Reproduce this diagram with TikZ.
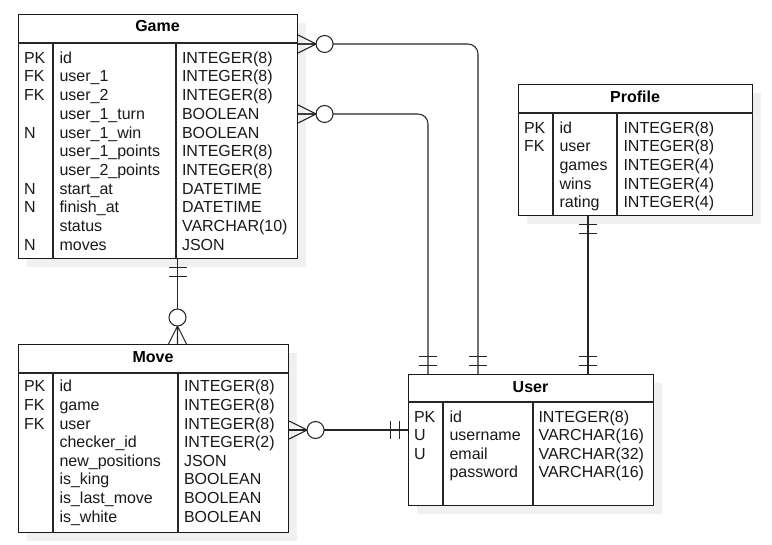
\documentclass[tikz,border=0pt]{standalone}
\usepackage{fontspec}
\setmainfont{Liberation Sans}
\usetikzlibrary{calc,shadows}
\begin{document}
\begin{tikzpicture}[x=0.75pt,y=-0.75pt,line width=0.8pt,draw=black!85,
  font=\fontsize{12pt}{14pt}\selectfont,
  tbl/.style 2 args={draw=black!90,fill=white,inner sep=0pt,anchor=north west,
    minimum width=#1*0.75pt,minimum height=#2*0.75pt,
    drop shadow={shadow xshift=6pt,shadow yshift=-6pt,fill=black!6,draw=none,opacity=1}},
  title/.style={font=\fontsize{12pt}{14pt}\selectfont\bfseries,anchor=base,inner sep=0pt},
  cell/.style={anchor=base west,inner sep=0pt,text=black!90},
  zmany/.pic={\draw (0,-9)--(18,0) (0,9)--(18,0) (0,0)--(18,0);
              \draw[fill=white] (26.5,0) circle[radius=8.5];},
  onlyone/.pic={\draw (8.5,-9)--(8.5,9) (17.5,-9)--(17.5,9);},
]
\useasboundingbox (0,0) rectangle (772,545);

% ---------- Game ----------
\node[tbl={279}{244}] (game) at (18,14) {};
\draw ($(game.north west)+(0,29)$) -- ($(game.north east)+(0,29)$);
\draw ($(game.north west)+(35,29)$) -- ($(game.south west)+(35,0)$);
\draw ($(game.north west)+(158,29)$) -- ($(game.south west)+(158,0)$);
\node[title] (game-title) at (157.5,32) {Game};
\foreach \k/\n/\t [count=\i from 0] in {PK/id/INTEGER(8),FK/user\_1/INTEGER(8),FK/user\_2/INTEGER(8),{}/user\_1\_turn/BOOLEAN,N/user\_1\_win/BOOLEAN,{}/user\_1\_points/INTEGER(8),{}/user\_2\_points/INTEGER(8),N/start\_at/DATETIME,N/finish\_at/DATETIME,{}/status/VARCHAR(10),N/moves/JSON}{
  \node[cell] (game-k\i) at (23.5,{63.3+\i*18.7}) {\k};
  \node[cell] (game-n\i) at (59,{63.3+\i*18.7}) {\n};
  \node[cell] (game-t\i) at (181.5,{63.3+\i*18.7}) {\t};
}

% ---------- Profile ----------
\node[tbl={234}{131}] (profile) at (518,84) {};
\draw ($(profile.north west)+(0,29)$) -- ($(profile.north east)+(0,29)$);
\draw ($(profile.north west)+(35,29)$) -- ($(profile.south west)+(35,0)$);
\draw ($(profile.north west)+(99,29)$) -- ($(profile.south west)+(99,0)$);
\node[title] (profile-title) at (635,102.5) {Profile};
\foreach \k/\n/\t [count=\i from 0] in {PK/id/INTEGER(8),FK/user/INTEGER(8),{}/games/INTEGER(4),{}/wins/INTEGER(4),{}/rating/INTEGER(4)}{
  \node[cell] (profile-k\i) at (523.5,{133.3+\i*18.6}) {\k};
  \node[cell] (profile-n\i) at (559,{133.3+\i*18.6}) {\n};
  \node[cell] (profile-t\i) at (623,{133.3+\i*18.6}) {\t};
}

% ---------- Move ----------
\node[tbl={270}{188}] (move) at (18,344) {};
\draw ($(move.north west)+(0,29)$) -- ($(move.north east)+(0,29)$);
\draw ($(move.north west)+(35,29)$) -- ($(move.south west)+(35,0)$);
\draw ($(move.north west)+(160,29)$) -- ($(move.south west)+(160,0)$);
\node[title] (move-title) at (153,362.5) {Move};
\foreach \k/\n/\t [count=\i from 0] in {PK/id/INTEGER(8),FK/game/INTEGER(8),FK/user/INTEGER(8),{}/checker\_id/INTEGER(2),{}/new\_positions/JSON,{}/is\_king/BOOLEAN,{}/is\_last\_move/BOOLEAN,{}/is\_white/BOOLEAN}{
  \node[cell] (move-k\i) at (23.5,{392+\i*18.6}) {\k};
  \node[cell] (move-n\i) at (59,{392+\i*18.6}) {\n};
  \node[cell] (move-t\i) at (183.5,{392+\i*18.6}) {\t};
}

% ---------- User ----------
\node[tbl={245}{131}] (user) at (408,374) {};
\draw ($(user.north west)+(0,28)$) -- ($(user.north east)+(0,28)$);
\draw ($(user.north west)+(35,28)$) -- ($(user.south west)+(35,0)$);
\draw ($(user.north west)+(125,28)$) -- ($(user.south west)+(125,0)$);
\node[title] (user-title) at (530.5,393) {User};
\foreach \k/\n/\t [count=\i from 0] in {PK/id/INTEGER(8),U/username/VARCHAR(16),U/email/VARCHAR(32),{}/password/VARCHAR(16)}{
  \node[cell] (user-k\i) at (413.5,{422.4+\i*18.5}) {\k};
  \node[cell] (user-n\i) at (449,{422.4+\i*18.5}) {\n};
  \node[cell] (user-t\i) at (538,{422.4+\i*18.5}) {\t};
}

% ---------- Connectors ----------
\coordinate (gA) at ($(game.north east)+(0,30)$);
\coordinate (gB) at ($(game.north east)+(0,100)$);
\coordinate (uA) at ($(user.north west)+(70,0)$);
\coordinate (uB) at ($(user.north west)+(20,0)$);
\coordinate (uC) at ($(user.north west)+(180,0)$);
\coordinate (pC) at ($(profile.south west)+(70,0)$);
\coordinate (gD) at ($(game.south west)+(159.5,0)$);
\coordinate (mD) at ($(move.north west)+(159.5,0)$);
\coordinate (mE) at ($(move.north east)+(0,86)$);
\coordinate (uE) at ($(user.north west)+(0,56)$);

\draw[rounded corners=7.5pt] (gA) -| (uA);
\draw[rounded corners=7.5pt] (gB) -| (uB);
\draw (pC) -- (uC);
\draw (gD) -- (mD);
\draw (mE) -- (uE);

\pic at (gA) {zmany};
\pic at (gB) {zmany};
\pic at (mE) {zmany};
\pic[rotate=90] at (mD) {zmany};
\pic[rotate=90] at (uA) {onlyone};
\pic[rotate=90] at (uB) {onlyone};
\pic[rotate=90] at (uC) {onlyone};
\pic[rotate=-90] at (pC) {onlyone};
\pic[rotate=-90] at (gD) {onlyone};
\pic[rotate=180] at (uE) {onlyone};
\end{tikzpicture}
\end{document}
